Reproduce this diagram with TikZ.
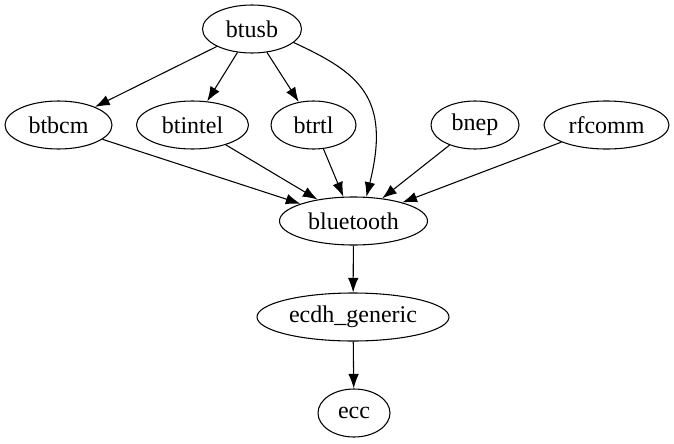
\documentclass[tikz,border=0pt]{standalone}
\usepackage{fontspec}
\setmainfont{Liberation Serif}
\usepackage{tikz}
\usetikzlibrary{arrows.meta,shapes.geometric}
\tikzset{
  modnode/.style = {ellipse, draw, inner sep=0pt, minimum height=36pt,
    font=\fontsize{18}{20}\selectfont},% module
}

\begin{document}
\begin{tikzpicture}[x=0.75pt,y=0.75pt,->,>={Latex[length=11pt,width=8pt]},
  every path/.style={line width=0.8pt}]
\useasboundingbox (0,0) rectangle (674,-443);
% top rank
\node [modnode, minimum width=74.25pt] (btusb) at (252,-29) {btusb};
% drivers and protocols
\node [modnode, minimum width=80.25pt] (btbcm) at (58.5,-125) {btbcm};
\node [modnode, minimum width=84pt] (btintel) at (192.5,-125) {btintel};
\node [modnode, minimum width=63.75pt] (btrtl) at (313.5,-125) {btrtl};
\node [modnode, minimum width=66pt] (bnep) at (475,-125) {bnep};
\node [modnode, minimum width=93.75pt] (rfcomm) at (606.5,-125) {rfcomm};
% core
\node [modnode, minimum width=111pt] (bluetooth) at (353.5,-221) {bluetooth};
\node [modnode, minimum width=144pt] (ecdh) at (353,-317) {ecdh\_generic};
\node [modnode, minimum width=54pt] (ecc) at (354,-413) {ecc};

\draw (btusb) -- (btbcm);
\draw (btusb) -- (btintel);
\draw (btusb) -- (btrtl);
\draw (btusb.-18) .. controls +(65,-30) and +(25,100) .. (bluetooth.62);
\draw (btbcm) -- (bluetooth);
\draw (btintel) -- (bluetooth);
\draw (btrtl) -- (bluetooth);
\draw (bnep) -- (bluetooth);
\draw (rfcomm) -- (bluetooth);
\draw (bluetooth) -- (ecdh);
\draw (ecdh) -- (ecc);
\end{tikzpicture}
\end{document}
